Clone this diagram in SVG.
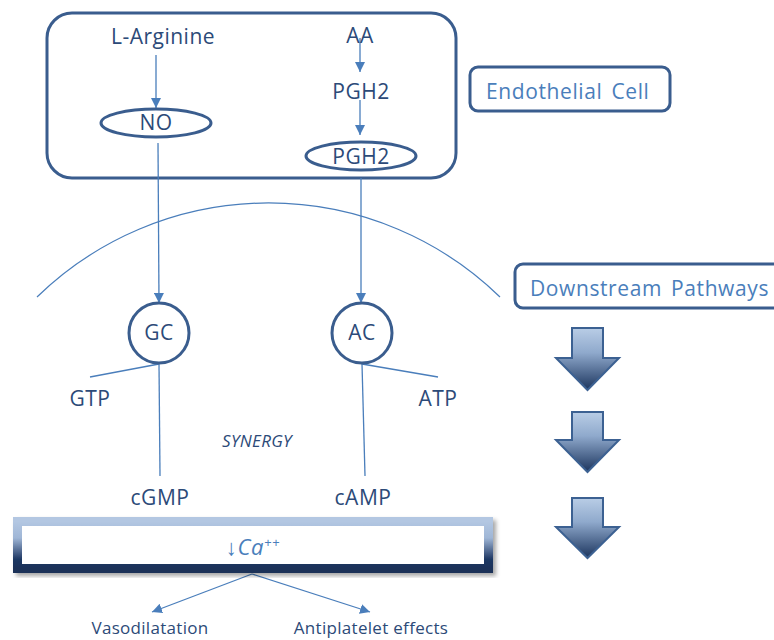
<svg xmlns="http://www.w3.org/2000/svg" width="774" height="640" viewBox="0 0 774 640">
<style>
.t{font-family:"Open Sans","Noto Sans",sans-serif;fill:#2c4a78;font-size:21px;letter-spacing:0.5px;text-anchor:middle}
.lt{font-family:"Open Sans","Noto Sans",sans-serif;fill:#4a7ebb;font-size:21px;letter-spacing:0.6px;word-spacing:3px}
.node{fill:none;stroke:#3a5d8e;stroke-width:3}
.c{fill:none;stroke:#4a7ebb;stroke-width:1.3}
.ba{stroke:#3c6192;stroke-width:2;fill:url(#bag)}
</style>
<defs>
<marker id="ah" viewBox="0 0 10 10" refX="10" refY="5" markerWidth="10" markerHeight="10" markerUnits="userSpaceOnUse" orient="auto">
<path d="M0,0 L10,5 L0,10 z" fill="#4a7ebb"/>
</marker>
<linearGradient id="bag" x1="0" y1="0" x2="0" y2="1">
<stop offset="0" stop-color="#b9cde6"/>
<stop offset="0.4" stop-color="#8fa9cc"/>
<stop offset="1" stop-color="#1c355e"/>
</linearGradient>
<linearGradient id="cag" x1="0" y1="0" x2="0" y2="1">
<stop offset="0" stop-color="#b3c7e2"/>
<stop offset="0.35" stop-color="#9fb6d6"/>
<stop offset="0.8" stop-color="#1f3864"/>
<stop offset="1" stop-color="#1a3158"/>
</linearGradient>
<filter id="sh" x="-5%" y="-20%" width="110%" height="140%">
<feDropShadow dx="3" dy="3" stdDeviation="2" flood-color="#000" flood-opacity="0.35"/>
</filter>
</defs>

<g id="endothelial-box"><rect x="47" y="13" width="409" height="165" rx="25" class="node"/></g>
<g id="endothelial-label"><rect x="470" y="67" width="200" height="44" rx="8" class="node"/><text x="486" y="99" class="lt">Endothelial Cell</text></g>
<g id="downstream-label"><rect x="515" y="264" width="270" height="44" rx="8" class="node"/><text x="530" y="296" class="lt">Downstream Pathways</text></g>

<g id="membrane"><path d="M37,297 A332,332 0 0 1 500,297" fill="none" stroke="#4a7ebb" stroke-width="1.2"/></g>

<g id="connectors">
<line x1="156" y1="55" x2="156" y2="108" class="c" marker-end="url(#ah)"/>
<line x1="360" y1="38" x2="360" y2="72" class="c" marker-end="url(#ah)"/>
<line x1="360" y1="100" x2="360" y2="135" class="c" marker-end="url(#ah)"/>
<line x1="158" y1="143" x2="159" y2="303" class="c" marker-end="url(#ah)"/>
<line x1="361" y1="178" x2="361" y2="303" class="c" marker-end="url(#ah)"/>
<line x1="159" y1="364" x2="90" y2="377" class="c"/>
<line x1="159" y1="364" x2="160" y2="476" class="c"/>
<line x1="362" y1="364" x2="438" y2="377" class="c"/>
<line x1="362" y1="364" x2="365" y2="476" class="c"/>
<line x1="252" y1="574" x2="152" y2="612" class="c" marker-end="url(#ah)"/>
<line x1="252" y1="574" x2="370" y2="612" class="c" marker-end="url(#ah)"/>
</g>

<g id="l-arginine"><text x="163" y="44" class="t">L-Arginine</text></g>
<g id="aa"><text x="360" y="43" class="t">AA</text></g>
<g id="pgh2-text"><text x="361" y="99" class="t">PGH2</text></g>
<g id="no"><ellipse cx="156" cy="123" rx="55" ry="14" class="node"/><text x="156" y="130" class="t">NO</text></g>
<g id="pgh2"><ellipse cx="361" cy="156" rx="55" ry="14" class="node"/><text x="361" y="164" class="t">PGH2</text></g>
<g id="gc"><circle cx="159" cy="333" r="30" class="node"/><text x="159" y="340" class="t">GC</text></g>
<g id="ac"><circle cx="362" cy="333" r="30" class="node"/><text x="362" y="340" class="t">AC</text></g>
<g id="gtp"><text x="90" y="406" class="t">GTP</text></g>
<g id="atp"><text x="438" y="406" class="t">ATP</text></g>
<g id="synergy"><text x="257" y="447" class="t" style="font-size:17px;font-style:italic;letter-spacing:0.3px">SYNERGY</text></g>
<g id="cgmp"><text x="160" y="505" class="t">cGMP</text></g>
<g id="camp"><text x="363" y="505" class="t">cAMP</text></g>

<g id="ca-box">
<rect x="17.5" y="521.5" width="471" height="47" fill="#fff" stroke="url(#cag)" stroke-width="9" filter="url(#sh)"/>
<text x="253" y="555" class="lt" style="text-anchor:middle;font-size:22px"><tspan style="font-style:normal">↓</tspan><tspan style="font-style:italic">Ca</tspan><tspan style="font-style:italic;font-size:13px" dy="-8">++</tspan></text>
</g>

<g id="vasodilatation"><text x="150" y="634" class="t" style="font-size:17px;letter-spacing:0.3px">Vasodilatation</text></g>
<g id="antiplatelet"><text x="371" y="634" class="t" style="font-size:17px;letter-spacing:0.3px">Antiplatelet effects</text></g>

<g id="block-arrows">
<path d="M572,328 H603 V358 H619 L587.5,390 L556,358 H572 Z" class="ba"/>
<path d="M572,412 H603 V440 H619 L587.5,472 L556,440 H572 Z" class="ba"/>
<path d="M572,498 H603 V527 H619 L587.5,558 L556,527 H572 Z" class="ba"/>
</g>
</svg>
